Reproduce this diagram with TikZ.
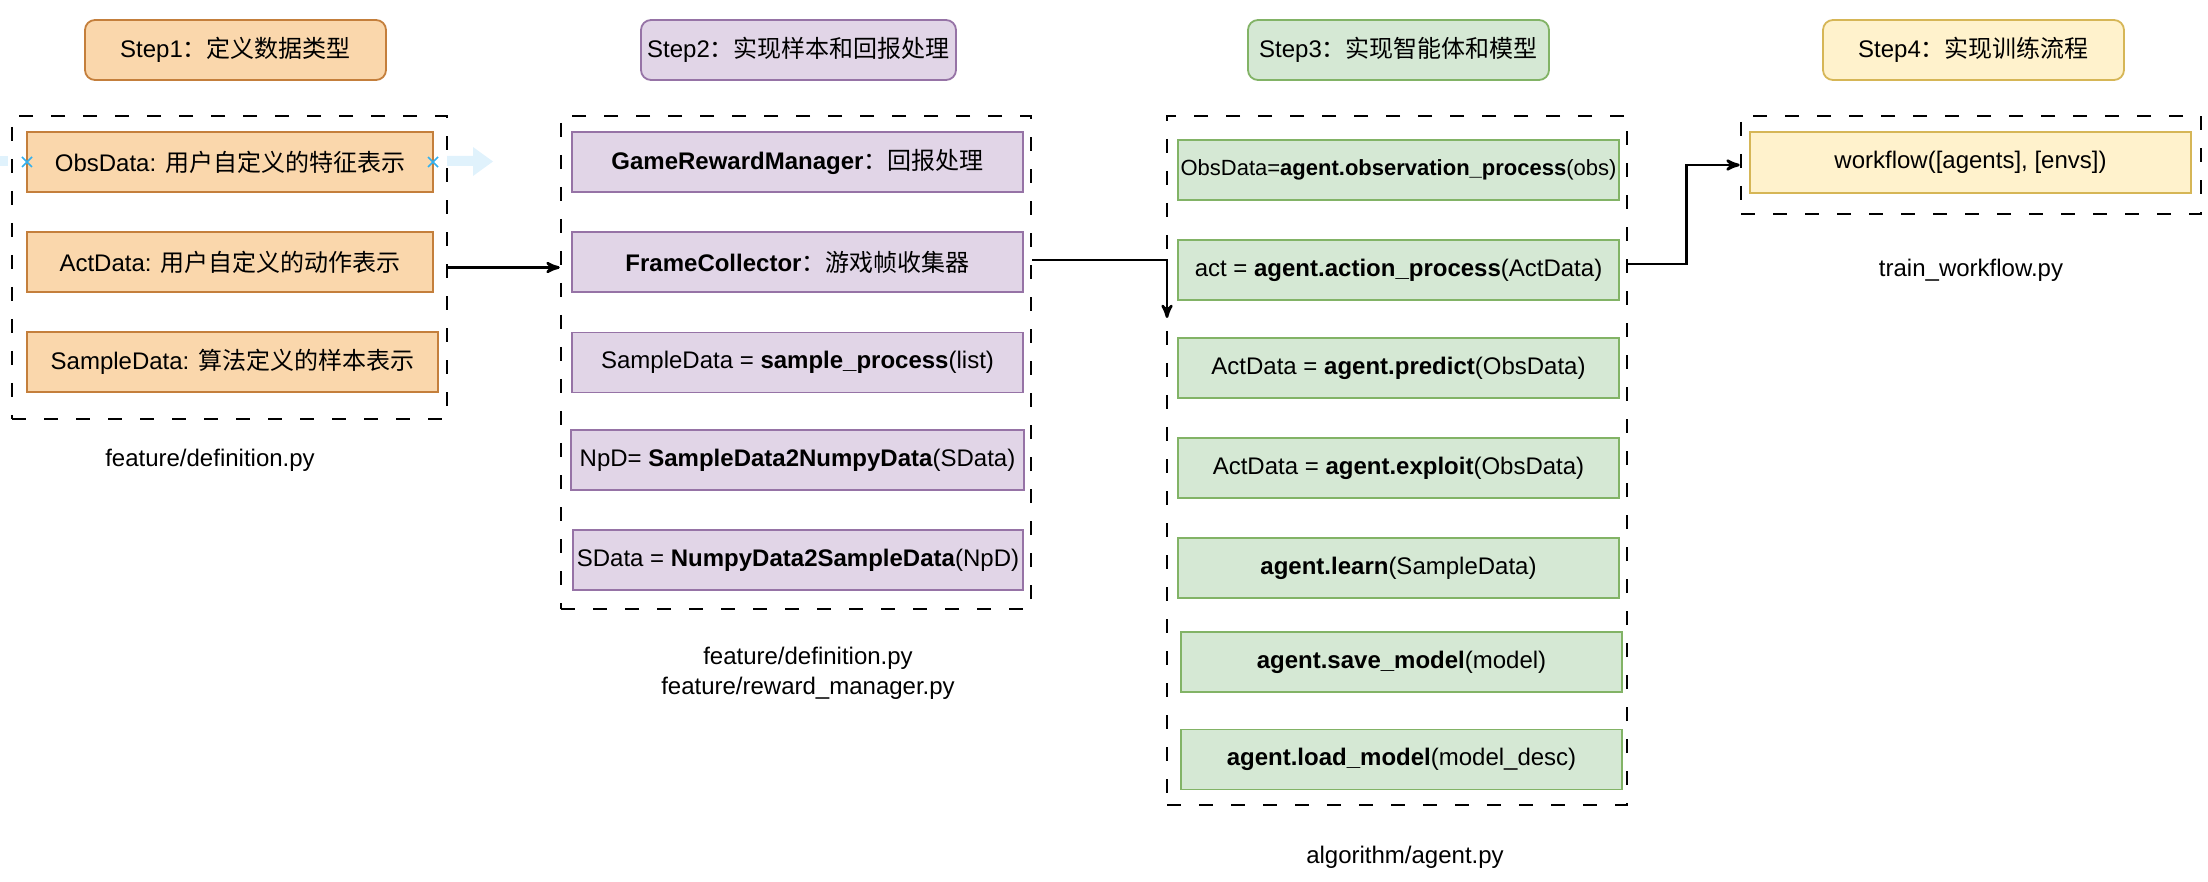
\documentclass[tikz,border=0pt]{standalone}
\usepackage{fontspec}
\setmainfont{Liberation Sans}
\newfontfamily\cjk{Noto Sans CJK SC}
\usetikzlibrary{arrows}
\definecolor{ofill}{HTML}{FAD7AC}
\definecolor{oline}{HTML}{C47F3C}
\definecolor{pfill}{HTML}{E1D5E7}
\definecolor{pline}{HTML}{9673A6}
\definecolor{gfill}{HTML}{D5E8D4}
\definecolor{gline}{HTML}{82B366}
\definecolor{yfill}{HTML}{FFF2CC}
\definecolor{yline}{HTML}{D6B656}
\definecolor{hint}{HTML}{E0F2FC}
\definecolor{xblue}{HTML}{33B0EE}

\begin{document}
\begin{tikzpicture}[x=0.5pt,y=-0.5pt,font=\fontsize{12}{15}\selectfont]
\tikzstyle{stepbox}=[rounded corners=5pt,draw,line width=0.9pt,minimum width=150.5pt,minimum height=30pt,inner sep=0pt]
\tikzstyle{box}=[draw,line width=0.8pt,minimum height=30pt,inner sep=0pt]
\tikzstyle{group}=[draw,line width=1.3pt,dash pattern=on 7pt off 9pt,inner sep=0pt]
\tikzstyle{link}=[->,line width=1.3pt,>=stealth']
\tikzstyle{ob}=[box,fill=ofill,draw=oline,minimum width=203pt]
\tikzstyle{pb}=[box,fill=pfill,draw=pline,minimum width=225.5pt]
\tikzstyle{gb}=[box,fill=gfill,draw=gline,minimum width=220.5pt]
\useasboundingbox (0,0) rectangle (2208,882);

\node (s1) at (235.5,50) [stepbox,fill=ofill,draw=oline]{Step1{\cjk ：定义数据类型}};
\node (s2) at (798.5,50) [stepbox,fill=pfill,draw=pline,minimum width=157.5pt]{Step2{\cjk ：实现样本和回报处理}};
\node (s3) at (1398.5,50) [stepbox,fill=gfill,draw=gline]{Step3{\cjk ：实现智能体和模型}};
\node (s4) at (1973.5,50) [stepbox,fill=yfill,draw=yline]{Step4{\cjk ：实现训练流程}};

\node (c1) at (229.5,267.5) [group,minimum width=217.5pt,minimum height=151.5pt]{};
\node (c2) at (796,362.5) [group,minimum width=235pt,minimum height=246.5pt]{};
\node (c3) at (1397,460.5) [group,minimum width=230pt,minimum height=344.5pt]{};
\node (c4) at (1971,165) [group,minimum width=230pt,minimum height=49pt]{};

\fill[hint] (0,156) rectangle (8,166);
\fill[hint] (447,156) -- (473,156) -- (473,147) -- (493,161.5) -- (473,176) -- (473,166) -- (447,166) -- cycle;

\node (1) at (230,162) [ob]{ObsData: {\cjk 用户自定义的特征表示}};
\node (2) at (230,262) [ob]{ActData: {\cjk 用户自定义的动作表示}};
\node (3) at (232.5,362) [ob,minimum width=205.5pt]{SampleData: {\cjk 算法定义的样本表示}};

\draw[xblue,line width=0.8pt] (22,157) -- (32,167) (22,167) -- (32,157);
\draw[xblue,line width=0.8pt] (428,157) -- (438,167) (428,167) -- (438,157);

\node (4) at (797.5,162) [pb]{\textbf{GameRewardManager}{\cjk ：回报处理}};
\node (5) at (797.5,262) [pb]{\textbf{FrameCollector}{\cjk ：游戏帧收集器}};
\node (6) at (797.5,362.5) [pb]{SampleData = \textbf{sample\_process}(list)};
\node (7) at (797.5,460) [pb,minimum width=226.5pt]{NpD= \textbf{SampleData2NumpyData}(SData)};
\node (8) at (798,560) [pb,minimum width=225pt]{SData = \textbf{NumpyData2SampleData}(NpD)};

\node (9) at (1398.5,170) [gb]{\fontsize{11}{13}\selectfont ObsData=\textbf{agent.observation\_process}(obs)};
\node (10) at (1398.5,270) [gb]{act = \textbf{agent.action\_process}(ActData)};
\node (11) at (1398.5,368) [gb]{ActData = \textbf{agent.predict}(ObsData)};
\node (12) at (1398.5,468) [gb]{ActData = \textbf{agent.exploit}(ObsData)};
\node (13) at (1398.5,568) [gb]{\textbf{agent.learn}(SampleData)};
\node (14) at (1401.5,662) [gb]{\textbf{agent.save\_model}(model)};
\node (15) at (1401.5,759.5) [gb]{\textbf{agent.load\_model}(model\_desc)};

\node (16) at (1970.5,162.5) [box,fill=yfill,draw=yline,minimum width=220.5pt,minimum height=30.5pt]{workflow([agents], [envs])};

\node (f1) at (210,460) {feature/definition.py};
\node (f2) at (808,673) [align=center]{feature/definition.py\\feature/reward\_manager.py};
\node (f3) at (1405,857) {algorithm/agent.py};
\node (f4) at (1971,270) {train\_workflow.py};

\coordinate (e1) at (1167,318);

\draw[link] (c1.east) -- (c1.east -| c2.west);
\draw[link] ([yshift=1pt]c2.east |- 5) -| (e1);
\draw[link] ([yshift=3pt]c3.east |- 10) -- ++(58,0) |- (c4.west);
\end{tikzpicture}
\end{document}
